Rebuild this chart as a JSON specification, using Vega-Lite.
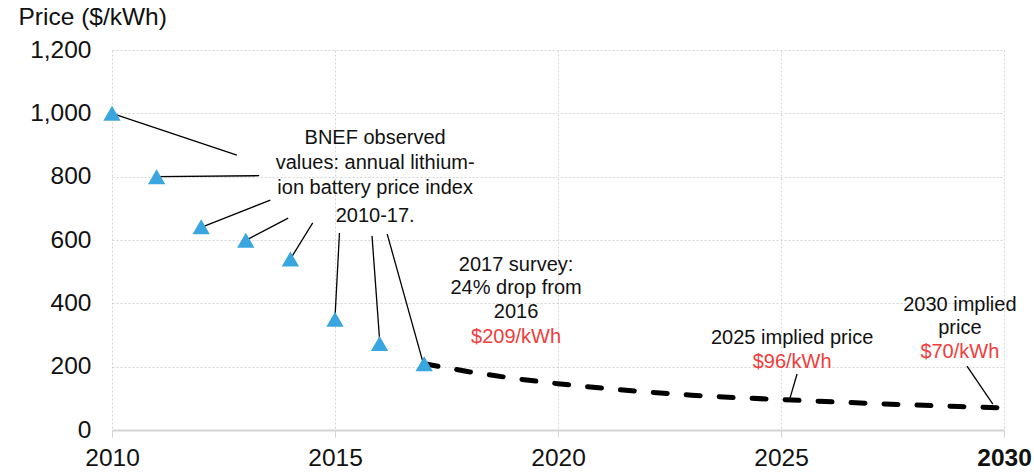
{
  "$schema": "https://vega.github.io/schema/vega-lite/v6.json",
  "width": 892,
  "height": 380,
  "autosize": "none",
  "padding": {"left": 112, "top": 50, "right": 30, "bottom": 42},
  "background": "white",
  "config": {
    "view": {"stroke": null},
    "font": "Liberation Sans",
    "axis": {"labelFont": "Liberation Sans", "titleFont": "Liberation Sans", "labelColor": "#111111", "titleColor": "#111111"}
  },
  "datasets": {
    "observed": [
      {"year": 2010, "price": 1000},
      {"year": 2011, "price": 800},
      {"year": 2012, "price": 642},
      {"year": 2013, "price": 599},
      {"year": 2014, "price": 540},
      {"year": 2015, "price": 350},
      {"year": 2016, "price": 273},
      {"year": 2017, "price": 209}
    ],
    "implied": [
      {"year": 2017, "price": 209},
      {"year": 2018, "price": 184},
      {"year": 2019, "price": 163},
      {"year": 2020, "price": 146},
      {"year": 2021, "price": 132},
      {"year": 2022, "price": 120},
      {"year": 2023, "price": 110},
      {"year": 2024, "price": 102},
      {"year": 2025, "price": 96},
      {"year": 2026, "price": 90},
      {"year": 2027, "price": 84},
      {"year": 2028, "price": 79},
      {"year": 2029, "price": 74},
      {"year": 2030, "price": 70}
    ],
    "leaders": [
      {"x": 2010, "y": 1000, "x2": 2012.8, "y2": 868},
      {"x": 2011, "y": 800, "x2": 2013.3, "y2": 803},
      {"x": 2012, "y": 640, "x2": 2013.55, "y2": 726},
      {"x": 2013, "y": 599, "x2": 2013.95, "y2": 669},
      {"x": 2014, "y": 540, "x2": 2014.5, "y2": 654},
      {"x": 2015, "y": 355, "x2": 2015.1, "y2": 622},
      {"x": 2016, "y": 285, "x2": 2015.83, "y2": 613},
      {"x": 2017, "y": 200, "x2": 2016.17, "y2": 619},
      {"x": 2025.2, "y": 100, "x2": 2025.36, "y2": 177},
      {"x": 2029.75, "y": 82, "x2": 2029.17, "y2": 202}
    ],
    "labels": [
      {"x": 2015.9, "y": 922, "text": "BNEF observed", "kind": "note"},
      {"x": 2015.9, "y": 843, "text": "values: annual lithium-", "kind": "note"},
      {"x": 2015.9, "y": 764, "text": "ion battery price index", "kind": "note"},
      {"x": 2015.9, "y": 676, "text": "2010-17.", "kind": "note"},
      {"x": 2019.06, "y": 521, "text": "2017 survey:", "kind": "note"},
      {"x": 2019.06, "y": 448, "text": "24% drop from", "kind": "note"},
      {"x": 2019.06, "y": 373, "text": "2016", "kind": "note"},
      {"x": 2019.06, "y": 294, "text": "$209/kWh", "kind": "price"},
      {"x": 2025.25, "y": 290, "text": "2025 implied price", "kind": "note"},
      {"x": 2025.25, "y": 215, "text": "$96/kWh", "kind": "price"},
      {"x": 2029.01, "y": 395, "text": "2030 implied", "kind": "note"},
      {"x": 2029.01, "y": 322, "text": "price", "kind": "note"},
      {"x": 2029.01, "y": 246, "text": "$70/kWh", "kind": "price"}
    ]
  },
  "layer": [
    {
      "data": {"name": "implied"},
      "mark": {"type": "line", "color": "black", "strokeWidth": 5, "strokeDash": [14, 19], "strokeCap": "round"},
      "encoding": {
        "x": {
          "field": "year", "type": "quantitative",
          "scale": {"domain": [2010, 2030], "nice": false, "zero": false},
          "axis": {
            "values": [2010, 2015, 2020, 2025, 2030],
            "format": "d",
            "title": null,
            "labelFontSize": 24.5,
            "labelPadding": 9,
            "labelFlush": false,
            "labelFontWeight": {"condition": {"test": "datum.value === 2030", "value": "bold"}, "value": "normal"},
            "grid": true,
            "gridColor": "#d4d4d4",
            "gridDash": [2, 2],
            "gridWidth": 1,
            "domainColor": "#d4d4d4",
            "domainWidth": 2,
            "tickColor": "#d4d4d4",
            "tickSize": 7,
            "tickWidth": 1
          }
        },
        "y": {
          "field": "price", "type": "quantitative",
          "scale": {"domain": [0, 1200], "nice": false},
          "axis": {
            "values": [0, 200, 400, 600, 800, 1000, 1200],
            "format": ",d",
            "labelFontSize": 24.5,
            "labelPadding": 21,
            "ticks": false,
            "domain": false,
            "grid": true,
            "gridColor": "#d4d4d4",
            "gridDash": [2, 2],
            "gridWidth": 1,
            "title": "Price ($/kWh)",
            "titleAngle": 0,
            "titleAlign": "left",
            "titleBaseline": "middle",
            "titleFontWeight": "normal",
            "titleFontSize": 24.5,
            "titleX": -94,
            "titleY": -33
          }
        }
      }
    },
    {
      "data": {"name": "leaders"},
      "mark": {"type": "rule", "color": "black", "strokeWidth": 1.3},
      "encoding": {
        "x": {"field": "x", "type": "quantitative"},
        "y": {"field": "y", "type": "quantitative"},
        "x2": {"field": "x2"},
        "y2": {"field": "y2"}
      }
    },
    {
      "data": {"name": "observed"},
      "mark": {"type": "point", "shape": "triangle-up", "filled": true, "color": "#3aa6e0", "size": 300, "opacity": 1},
      "encoding": {
        "x": {"field": "year", "type": "quantitative"},
        "y": {"field": "price", "type": "quantitative"}
      }
    },
    {
      "data": {"name": "labels"},
      "mark": {"type": "text", "align": "center", "baseline": "middle", "fontSize": 20, "font": "Liberation Sans"},
      "encoding": {
        "x": {"field": "x", "type": "quantitative"},
        "y": {"field": "y", "type": "quantitative"},
        "text": {"field": "text"},
        "color": {
          "field": "kind", "type": "nominal",
          "scale": {"domain": ["note", "price"], "range": ["#111111", "#f03c3c"]},
          "legend": null
        }
      }
    }
  ]
}
